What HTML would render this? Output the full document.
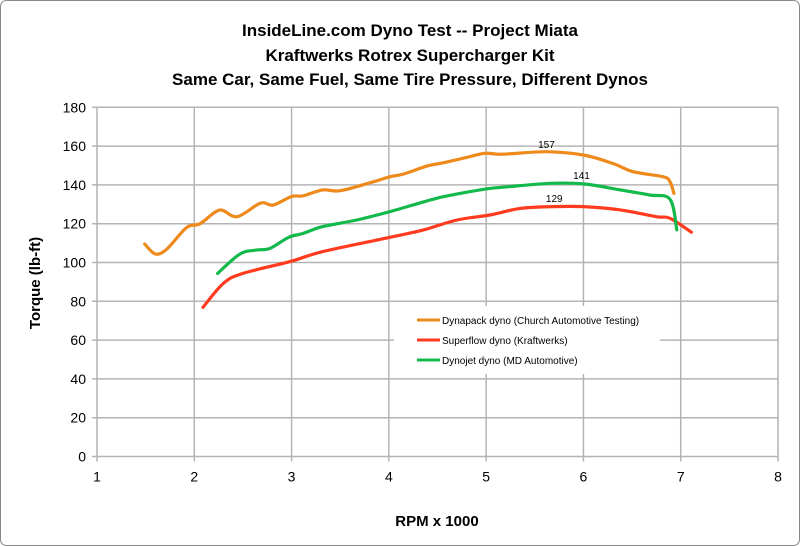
<!DOCTYPE html>
<html><head><meta charset="utf-8"><style>
html,body{margin:0;padding:0;background:#fff;}
svg{display:block;font-family:"Liberation Sans",Arial,sans-serif;}
</style></head><body>
<svg id="chart" width="800" height="546">
<rect x="0.5" y="0.5" width="799" height="545" rx="6" fill="#fff" stroke="#888"/>
<g font-weight="bold" font-size="17" text-anchor="middle" fill="#000">
<text x="410" y="36">InsideLine.com Dyno Test -- Project Miata</text>
<text x="410" y="61">Kraftwerks Rotrex Supercharger Kit</text>
<text x="410" y="85">Same Car, Same Fuel, Same Tire Pressure, Different Dynos</text>
</g>
<g id="grid"></g>
<g id="ticks"></g>
<g id="series"></g>
<g id="legend"></g>
<text x="437" y="526" font-size="15" font-weight="bold" text-anchor="middle">RPM x 1000</text>
<text transform="translate(40,283) rotate(-90)" font-size="15" font-weight="bold" text-anchor="middle">Torque (lb-ft)</text>
</svg>
<script>
const xTicks=[1,2,3,4,5,6,7,8];
const yTicks=[0,20,40,60,80,100,120,140,160,180];
const dynapackRpm=[1.49,1.60,1.72,1.92,2.06,2.26,2.44,2.68,2.81,3.0,3.12,3.32,3.50,3.84,4.01,4.15,4.39,4.56,4.80,4.99,5.17,5.62,6.0,6.30,6.51,6.82,6.89,6.93];
const dynapackTq=[109.5,104.4,107,118,120,127,123.6,130.6,129.6,134,134.4,137.4,137,141.6,144.2,145.6,149.7,151.4,154.2,156.3,155.8,157.1,155.4,151.1,146.8,144.2,141.6,135.6];
const superflowRpm=[2.09,2.30,2.50,2.98,3.32,4.01,4.35,4.70,5.04,5.35,5.69,6.0,6.38,6.75,6.89,7.11];
const superflowTq=[76.9,89.3,94.4,100.4,105.6,113,116.7,121.9,124.5,127.9,128.8,128.8,127.1,123.6,122.8,115.6];
const dynojetRpm=[2.24,2.47,2.64,2.78,2.97,3.12,3.32,3.67,4.01,4.36,4.56,4.83,5.04,5.17,5.66,6.0,6.38,6.68,6.89,6.96];
const dynojetTq=[94.4,104.4,106.4,107.3,113,115,118.5,121.9,126.2,131.3,133.9,136.5,138.2,138.8,140.8,140.5,137.4,134.8,132.6,116.8];
const peakLabels=[{rpm:5.62,tq:157,text:"157"},{rpm:5.98,tq:141,text:"141"},{rpm:5.7,tq:129,text:"129"}];
const legendNames=["Dynapack dyno (Church Automotive Testing)","Superflow dyno (Kraftwerks)","Dynojet dyno (MD Automotive)"];
const legendColors=["#ee8a1c","#ff3a1e","#14b94c"];

const X0=97,X1=778,Y0=456.5,Y1=107.3;
const sx=v=>X0+(v-1)/7*(X1-X0);
const sy=v=>Y0-v/180*(Y0-Y1);
const NS="http://www.w3.org/2000/svg";
function mk(tag,attrs,parent){const e=document.createElementNS(NS,tag);for(const k in attrs)e.setAttribute(k,attrs[k]);parent.appendChild(e);return e;}
const grid=document.getElementById('grid'),ticks=document.getElementById('ticks');
xTicks.forEach(t=>{
 const l=mk('line',{x1:sx(t),x2:sx(t),y1:Y1,y2:Y0+5,stroke:'#b4b4b4','stroke-width':1.5},grid);
 
 
 const tx=mk('text',{x:sx(t),y:Y0+25,'font-size':14,'text-anchor':'middle'},ticks);tx.textContent=t;
 
 
});
yTicks.forEach(t=>{
 const l=mk('line',{x1:X0-5,x2:X1,y1:sy(t),y2:sy(t),stroke:'#b4b4b4','stroke-width':1.5},grid);
 
 
 const tx=mk('text',{x:X0-11,y:sy(t)+5,'font-size':14,'text-anchor':'end'},ticks);tx.textContent=t;
 
 
});
const series=document.getElementById('series');
function line(xs,ys,color,name){
 const P=xs.map((x,i)=>[sx(x),sy(ys[i])]);
 let d='M'+P[0][0].toFixed(1)+','+P[0][1].toFixed(1);
 for(let i=0;i<P.length-1;i++){
  const p0=P[Math.max(0,i-1)],p1=P[i],p2=P[i+1],p3=P[Math.min(P.length-1,i+2)];
  const c1=[p1[0]+(p2[0]-p0[0])/6,p1[1]+(p2[1]-p0[1])/6];
  const c2=[p2[0]-(p3[0]-p1[0])/6,p2[1]-(p3[1]-p1[1])/6];
  d+='C'+c1[0].toFixed(1)+','+c1[1].toFixed(1)+' '+c2[0].toFixed(1)+','+c2[1].toFixed(1)+' '+p2[0].toFixed(1)+','+p2[1].toFixed(1);
 }
 const p=mk('path',{d:d,fill:'none',stroke:color,'stroke-width':3.2,'stroke-linejoin':'round','stroke-linecap':'round'},series);
 
 
}
line(superflowRpm,superflowTq,legendColors[1],'superflow-line');
line(dynojetRpm,dynojetTq,legendColors[2],'dynojet-line');
line(dynapackRpm,dynapackTq,legendColors[0],'dynapack-line');
peakLabels.forEach(p=>{
 const t=mk('text',{x:sx(p.rpm),y:sy(p.tq)-4,'font-size':10,'text-anchor':'middle'},series);t.textContent=p.text;
 
 
});
const lg=document.getElementById('legend');
const bg=mk('rect',{x:394,y:306,width:266,height:68,fill:'#fff'},lg);


legendNames.forEach((n,i)=>{
 const y=320+i*20;
 const g=mk('g',{},lg);
 
 
 mk('line',{x1:417,x2:440,y1:y,y2:y,stroke:legendColors[i],'stroke-width':3},g);
 const t=mk('text',{x:442,y:y+4,'font-size':10},g);t.textContent=n;
});
</script>
</body></html>
